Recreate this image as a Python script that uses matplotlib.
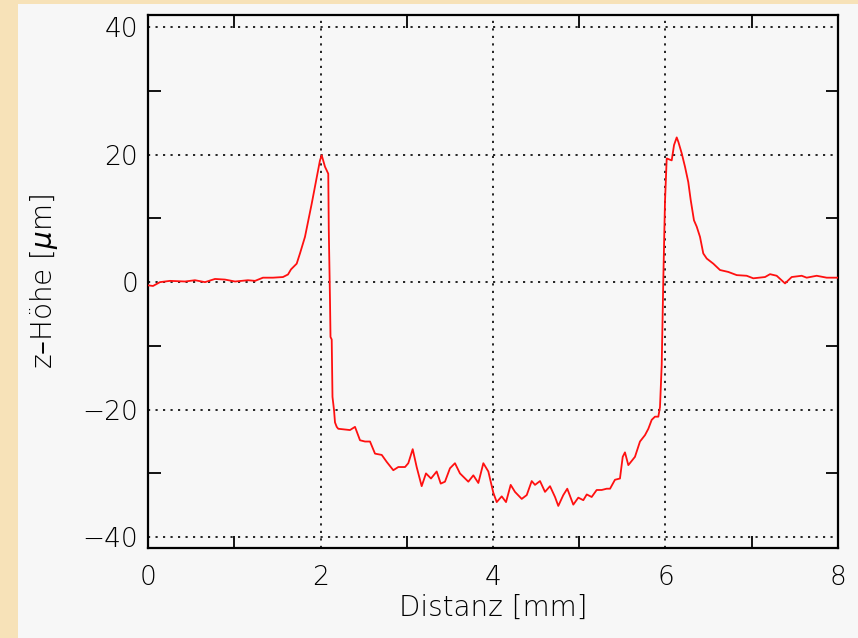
import numpy as np
import matplotlib
matplotlib.use('Agg')
import matplotlib.pyplot as plt
from matplotlib.patches import Rectangle
from matplotlib.ticker import MultipleLocator

# Profil: Distanz (mm) und z-Hoehe (um)
distanz = [
  0.000, 0.058, 0.139, 0.255, 0.429, 0.545, 0.661, 0.777, 0.893, 1.009,
  1.159, 1.241, 1.333, 1.449, 1.565, 1.623, 1.658, 1.724, 1.762, 1.820,
  1.859, 1.898, 1.936, 1.963, 1.994, 2.014, 2.052, 2.090, 2.096, 2.110,
  2.116, 2.130, 2.139, 2.157, 2.168, 2.188, 2.206, 2.342, 2.400, 2.458,
  2.516, 2.574, 2.632, 2.710, 2.768, 2.844, 2.902, 2.980, 3.018, 3.069,
  3.115, 3.173, 3.223, 3.281, 3.347, 3.394, 3.443, 3.501, 3.559, 3.617,
  3.714, 3.772, 3.830, 3.888, 3.946, 4.003, 4.043, 4.101, 4.151, 4.205,
  4.255, 4.333, 4.391, 4.449, 4.487, 4.545, 4.603, 4.661, 4.719, 4.757,
  4.815, 4.861, 4.931, 4.989, 5.047, 5.087, 5.144, 5.202, 5.260, 5.318,
  5.357, 5.414, 5.472, 5.504, 5.530, 5.569, 5.646, 5.704, 5.762, 5.801,
  5.840, 5.878, 5.917, 5.936, 5.956, 5.974, 5.994, 6.014, 6.072, 6.099,
  6.130, 6.149, 6.188, 6.226, 6.264, 6.292, 6.330, 6.362, 6.400, 6.438,
  6.478, 6.554, 6.632, 6.728, 6.826, 6.941, 7.018, 7.154, 7.212, 7.289,
  7.386, 7.463, 7.579, 7.637, 7.753, 7.869, 7.985, 8.000]
hoehe = [
  -0.5, -0.6, 0.0, 0.2, 0.1, 0.3, 0.0, 0.5, 0.4, 0.1,
  0.3, 0.2, 0.7, 0.7, 0.8, 1.2, 2.0, 2.9, 4.5, 7.1,
  9.7, 12.3, 15.0, 17.0, 19.1, 19.9, 18.1, 17.0, 8.2, -2.8,
  -8.6, -9.0, -18.0, -20.1, -22.0, -22.7, -23.0, -23.2, -22.7, -24.8,
  -25.0, -25.0, -26.9, -27.1, -28.2, -29.5, -29.0, -29.0, -28.4, -26.2,
  -29.0, -32.0, -30.0, -30.8, -29.7, -31.6, -31.3, -29.2, -28.4, -30.0,
  -31.3, -30.3, -31.5, -28.4, -29.7, -33.0, -34.5, -33.6, -34.5, -31.8,
  -32.9, -34.0, -33.4, -31.2, -31.8, -31.2, -32.9, -32.0, -33.7, -35.1,
  -33.4, -32.4, -34.9, -33.8, -34.2, -33.3, -33.7, -32.6, -32.6, -32.4,
  -32.4, -31.0, -30.8, -27.4, -26.7, -28.7, -27.4, -25.0, -24.0, -23.0,
  -21.6, -21.1, -21.1, -19.6, -13.0, 0.0, 12.6, 19.4, 19.1, 21.5,
  22.7, 22.0, 20.2, 18.1, 15.7, 12.9, 9.7, 8.7, 7.1, 4.5,
  3.7, 2.9, 1.9, 1.6, 1.1, 1.0, 0.6, 0.8, 1.25, 1.0,
  -0.2, 0.8, 1.0, 0.7, 1.0, 0.7, 0.7, 0.7]

xticks = [0, 2, 4, 6, 8]
yticks = [-40, -20, 0, 20, 40]

plt.rcParams['font.family'] = ['DejaVu Sans']
plt.rcParams['font.weight'] = 200
plt.rcParams['axes.labelweight'] = 200

fig = plt.figure(figsize=(8.58, 6.38), dpi=100)
fig.patch.set_facecolor('#f7e2b8')
# helles Feld hinter dem Diagramm
fig.patches.append(Rectangle((18/858, 0), 1, 634/638, transform=fig.transFigure,
    facecolor='#f7f7f7', edgecolor='none', zorder=-10))

ax = fig.add_axes([148/858, 1-548/638, 690/858, 533/638])
ax.set_facecolor('#f7f7f7')

ax.plot(distanz, hoehe, color='#ff1010', linewidth=1.3, zorder=3)

ax.set_xlim(0, 8)
ax.set_ylim(-41.7, 41.9)
ax.set_xticks(xticks)
ax.set_yticks(yticks)
ax.xaxis.set_minor_locator(MultipleLocator(1))
ax.yaxis.set_minor_locator(MultipleLocator(10))

# gepunktetes Gitter statt Haupt-Ticks
for xv in xticks[1:]:
  ax.axvline(xv, color='k', linewidth=1.2, linestyle=(0, (1.3, 3.2)), zorder=1)
for yv in yticks:
  ax.axhline(yv, color='k', linewidth=1.2, linestyle=(0, (1.3, 3.2)), zorder=1)

ax.tick_params(which='major', length=0, labelsize=19, labelcolor='k')
ax.tick_params(axis='x', which='major', pad=12)
ax.tick_params(axis='y', which='major', pad=7)
ax.tick_params(which='minor', direction='in', length=9, width=1.3,
    top=True, right=True, color='k')
for s in ax.spines.values():
  s.set_linewidth(1.6)
  s.set_color('k')

ax.set_yticklabels(['\u221240', '\u221220', '0', '20', '40'])
ax.set_xlabel('Distanz [mm]', fontsize=20, labelpad=3)
ax.set_ylabel('z\u2013Höhe [$\\mu$m]', fontsize=20, labelpad=16)

fig.savefig('out.png', dpi=100, facecolor=fig.get_facecolor())
